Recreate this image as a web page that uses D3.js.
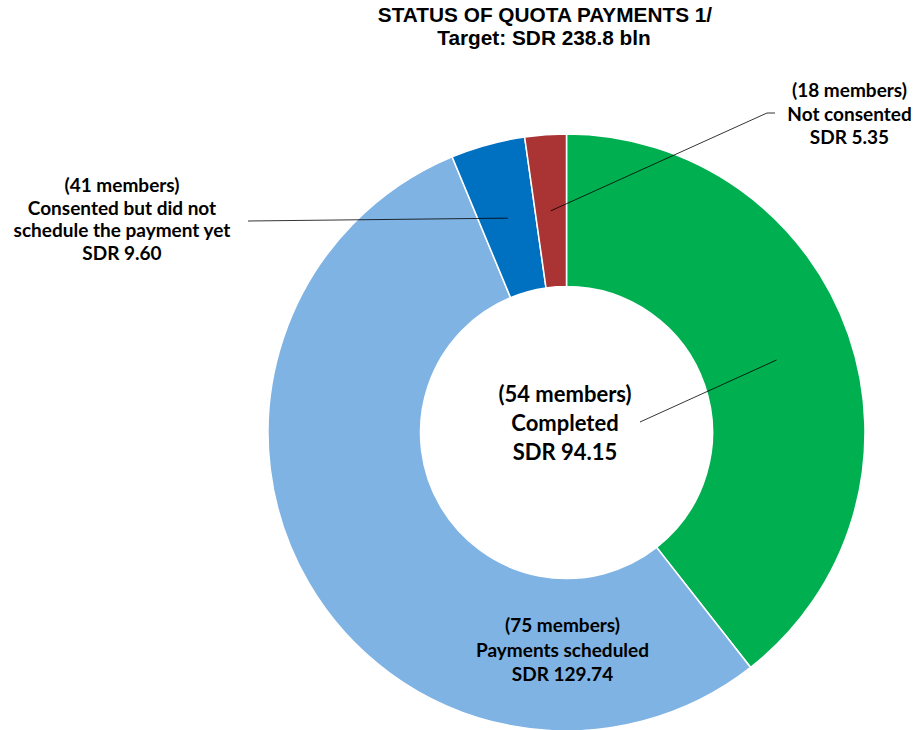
<!DOCTYPE html>
<html>
<head>
<meta charset="utf-8">
<script src="https://cdn.jsdelivr.net/npm/d3@7"></script>
<style>
  html, body { margin: 0; padding: 0; background: #fff; }
  svg { display: block; }
</style>
</head>
<body>
<svg id="chart" width="914" height="730"></svg>
<script>
// ---- Data ----
const categories = ["Completed", "Payments scheduled", "Consented but did not schedule the payment yet", "Not consented"];
const members = [54, 75, 41, 18];
const values = [94.15, 129.74, 9.60, 5.35];
const titleLines = ["STATUS OF QUOTA PAYMENTS 1/", "Target: SDR 238.8 bln"];
const colors = ["#00b050", "#7fb3e3", "#0070c0", "#aa3333"];

// label text lines
const labelLines = [
  ["(54 members)", "Completed", "SDR 94.15"],
  ["(75 members)", "Payments scheduled", "SDR 129.74"],
  ["(41 members)", "Consented but did not", "schedule the payment yet", "SDR 9.60"],
  ["(18 members)", "Not consented", "SDR 5.35"]
];

// ---- Layout ----
const svg = d3.select("#chart");
const cx = 566.5, cy = 432.5;
const outerR = 298.5, innerR = 146;

// Title
const title = svg.append("g").attr("font-family", "'Liberation Sans', Arial, sans-serif")
  .attr("font-weight", "bold").attr("font-size", 20.8).attr("text-anchor", "middle").attr("fill", "#000");
title.append("text").attr("x", 545).attr("y", 22).text(titleLines[0]);
title.append("text").attr("x", 544).attr("y", 45).text(titleLines[1]);

const data = categories.map((c, i) => ({ name: c, members: members[i], value: values[i], color: colors[i], lines: labelLines[i] }));

const pie = d3.pie().value(d => d.value).sort(null);
const arc = d3.arc().innerRadius(innerR).outerRadius(outerR);
const arcs = pie(data);

const g = svg.append("g").attr("transform", `translate(${cx},${cy})`);
g.selectAll("path.slice").data(arcs).join("path")
  .attr("class", "slice")
  .attr("d", arc)
  .attr("fill", d => d.data.color)
  .attr("stroke", "#fff")
  .attr("stroke-width", 1.5);

// Label placement (absolute page coordinates)
const labelCfg = [
  { x: 565, y: 402, dy: 29, size: 22, line: [640, 422] },
  { x: 562.5, y: 632, dy: 24.5, size: 19, line: null },
  { x: 122, y: 192, dy: 22.7, size: 19, line: [248, 221] },
  { x: 849.5, y: 97, dy: 23.5, size: 19, line: [767, 113], tail: [775, 113] }
];

const lab = svg.append("g").attr("font-family", "Lato, 'Open Sans', sans-serif")
  .attr("font-weight", "bold").attr("text-anchor", "middle").attr("fill", "#000");

arcs.forEach((a, i) => {
  const cfg = labelCfg[i];
  if (cfg.line) {
    const c = arc.centroid(a);
    const pts = [[cx + c[0], cy + c[1]], cfg.line];
    if (cfg.tail) pts.push(cfg.tail);
    svg.append("path")
      .attr("d", d3.line()(pts))
      .attr("fill", "none").attr("stroke", "#000").attr("stroke-width", 0.8);
  }
  const t = lab.append("text").attr("font-size", cfg.size);
  a.data.lines.forEach((ln, j) => {
    t.append("tspan").attr("x", cfg.x).attr("y", cfg.y + j * cfg.dy).text(ln);
  });
});
</script>
</body>
</html>
